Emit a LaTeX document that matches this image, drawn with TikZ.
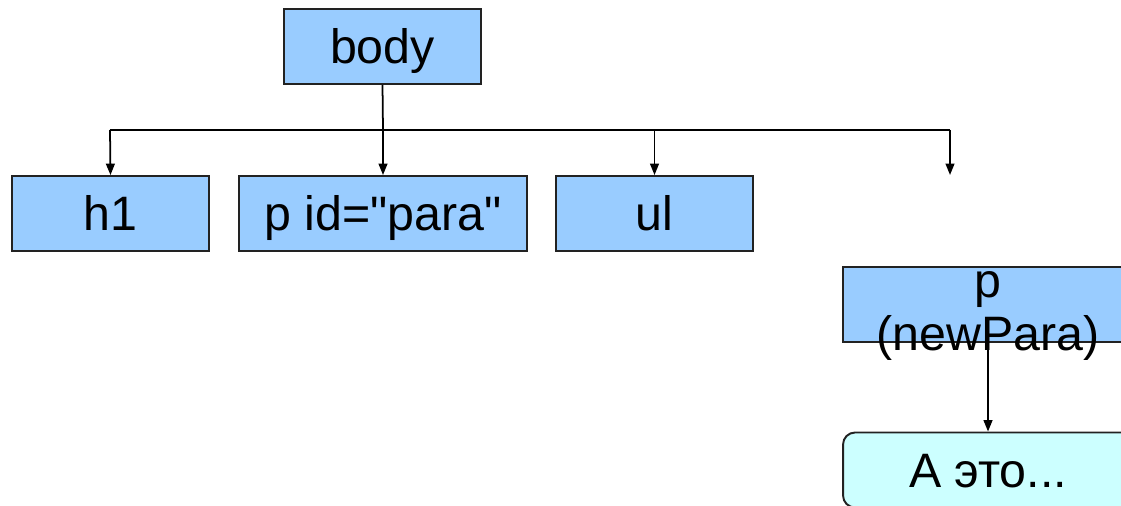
\documentclass[tikz,border=0pt]{standalone}
\usepackage{fontspec}
\setmainfont{Liberation Sans}[Ligatures=TeXOff]
\usetikzlibrary{arrows.meta}
\definecolor{bluefill}{HTML}{99CCFF}
\definecolor{cyanfill}{HTML}{CCFFFF}
\definecolor{edge}{HTML}{222222}
\begin{document}
\begin{tikzpicture}[x=0.02cm,y=-0.02cm,
  txt/.style={font=\fontsize{27.5pt}{30pt}\selectfont, text height=19.7pt, text depth=0pt, inner sep=0pt},
  box/.style={txt, draw=edge, line width=1.1pt, fill=bluefill, minimum height=1.5cm},
  conn/.style={draw=black, line width=1.0pt},
  arr/.style={conn, -{Triangle[length=6.5pt,width=5pt]}}]
\useasboundingbox (0,0) rectangle (1121,506);
\clip (0,0) rectangle (1121,506);
\node[box, minimum width=3.94cm] (body) at (382.5,46.5) {body};
\node[box, minimum width=3.94cm] (h1) at (110.5,213.5) {h1};
\node[box, minimum width=5.76cm] (pid) at (383,213.5) {p id="para"};
\node[box, minimum width=3.94cm] (ul) at (654.5,213.5) {ul};
\node[box, minimum width=5.8cm] (np) at (988,304.5) {};
\node[txt, anchor=base] (nptext1) at (988,297) {p};
\node[txt, anchor=base] (nptext2) at (988,350) {(newPara)};
\node[txt, draw=edge, line width=1.1pt, fill=cyanfill, rounded corners=12pt*0.567, minimum width=5.8cm, minimum height=1.5cm] (aeto) at (988,470) {А это...};
\coordinate (hub) at (383,130);
\coordinate (left) at (110,130);
\coordinate (right) at (950,130);
\coordinate (free) at (950,175);
\draw[conn] (body.south) -- (hub);
\draw[conn] (left) -- (right);
\draw[arr] (left) -- (h1.north);
\draw[arr] (hub) -- (pid.north);
\draw[arr] (ul.north |- hub) -- (ul.north);
\draw[arr] (right) -- (free);
\draw[arr] (np.south) -- (aeto.north);
\end{tikzpicture}
\end{document}
